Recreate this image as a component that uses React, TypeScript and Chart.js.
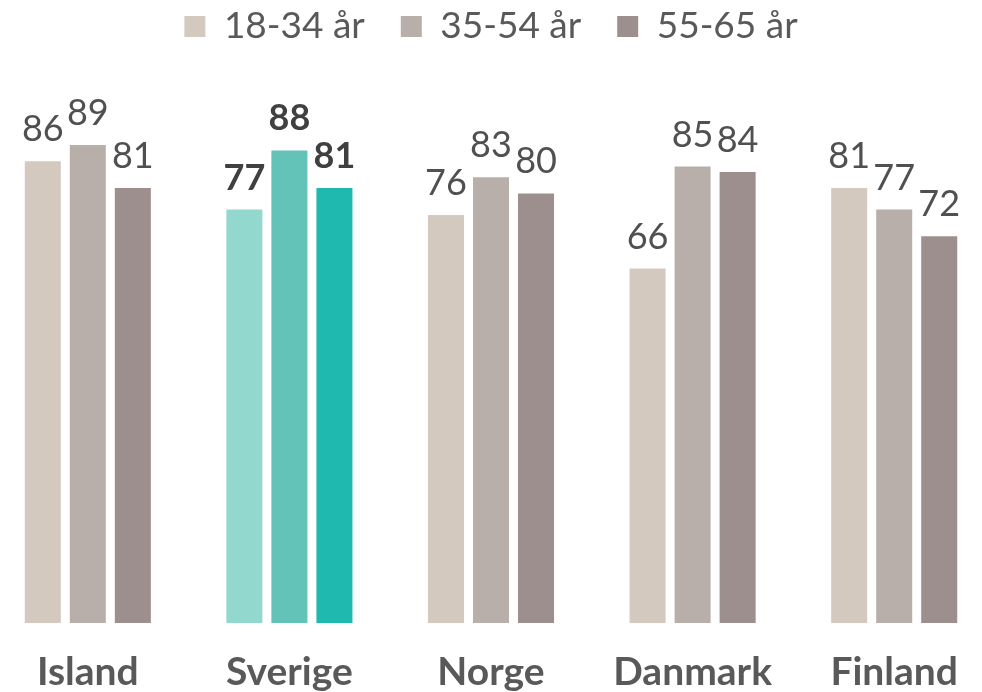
import React, { useEffect, useRef } from "react";
import { Chart, registerables } from "chart.js";

Chart.register(...registerables);

const categories = ["Island", "Sverige", "Norge", "Danmark", "Finland"];
const seriesLabels = ["18-34 år", "35-54 år", "55-65 år"];
const young = [86, 77, 76, 66, 81];
const middle = [89, 88, 83, 85, 77];
const senior = [81, 81, 80, 84, 72];
const baseColors = ["#D3C9BF", "#B9AFAA", "#9C8F8E"];
const highlightColors = ["#93D8CF", "#63C3B9", "#20B9AF"];
const highlightIndex = 1;

const FONT = "Lato, 'DejaVu Sans', sans-serif";

const dataLabelPlugin = {
  id: "dataLabels",
  afterDatasetsDraw(chart: any) {
    const ctx = chart.ctx;
    ctx.save();
    ctx.textAlign = "center";
    ctx.textBaseline = "alphabetic";
    chart.data.datasets.forEach((ds: any, di: number) => {
      const meta = chart.getDatasetMeta(di);
      meta.data.forEach((el: any, i: number) => {
        const hl = i === highlightIndex;
        ctx.font = (hl ? "bold " : "") + "36px " + FONT;
        ctx.fillStyle = hl ? "#404040" : "#505050";
        ctx.fillText(String(ds.data[i]), el.x, el.y - 20);
      });
    });
    ctx.restore();
  },
};

const legendFitPlugin = {
  id: "legendFit",
  beforeInit(chart: any) {
    const orig = chart.legend.fit;
    chart.legend.fit = function () {
      orig.call(this);
      this.height = 114;
    };
  },
};

export default function App() {
  const ref = useRef<HTMLCanvasElement>(null);
  useEffect(() => {
    document.body.style.margin = "0";
    document.body.style.overflow = "hidden";
    const series = [young, middle, senior];
    const chart = new Chart(ref.current!, {
      type: "bar",
      data: {
        labels: categories,
        datasets: series.map((d, k) => ({
          label: seriesLabels[k],
          data: d,
          backgroundColor: categories.map((_, i) => (i === highlightIndex ? highlightColors[k] : baseColors[k])),
          borderWidth: 0,
          categoryPercentage: 0.67,
          barPercentage: 0.8,
        })),
      },
      options: {
        animation: false,
        responsive: false,
        maintainAspectRatio: false,
        layout: { padding: { top: -28, left: 0, right: 0, bottom: 0 } },
        plugins: {
          legend: {
            display: true,
            position: "top",
            labels: {
              boxWidth: 21,
              boxHeight: 21,
              padding: 36,
              color: "#595959",
              font: { family: FONT, size: 37 },
            },
          },
          tooltip: { enabled: false },
        },
        scales: {
          x: {
            grid: { display: false, drawTicks: false },
            border: { display: false },
            ticks: {
              color: "#595959",
              padding: 26,
              font: { family: FONT, size: 39, weight: "bold" },
            },
            afterFit(scale: any) {
              scale.height = 69;
            },
          },
          y: {
            display: false,
            min: 0,
            max: 100,
          },
        },
      },
      plugins: [dataLabelPlugin, legendFitPlugin],
    } as any);
    return () => chart.destroy();
  }, []);
  return (
    <div style={{ position: "relative", width: 982, height: 692, overflow: "hidden" }}>
      <canvas
        ref={ref}
        width={1008}
        height={692}
        style={{ position: "absolute", left: -13, top: 0, width: 1008, height: 692 }}
      />
    </div>
  );
}
